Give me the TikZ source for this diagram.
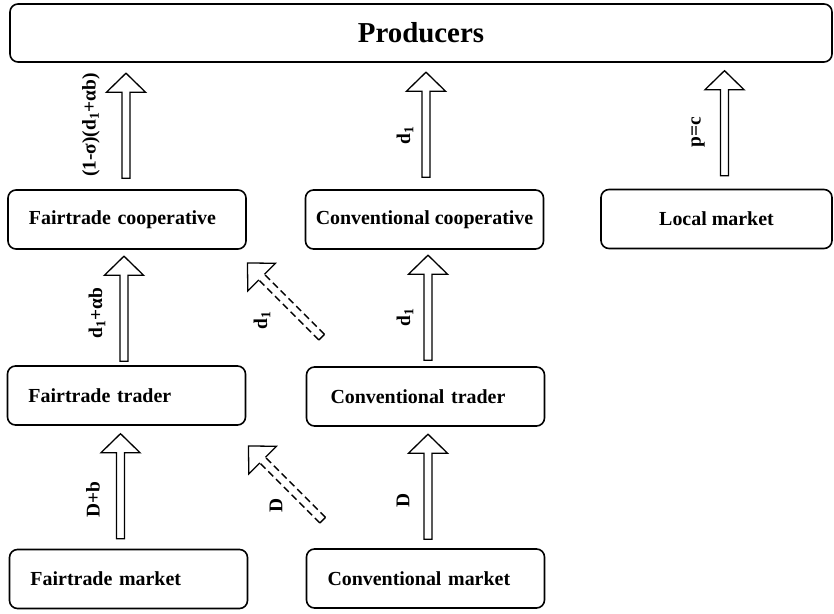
\documentclass[tikz,border=0pt]{standalone}
\usepackage{fontspec}
\setmainfont{Liberation Serif}
\usetikzlibrary{calc}

\tikzset{
  pics/flow/.style={code={
    \draw[line width=1.3bp] (-4,0) -- (-4,86) -- (-19.5,86) -- (0,105) -- (19.5,86) -- (4,86) -- (4,0) -- cycle;
  }},
  pics/dashflow/.style={code={
    \draw[line width=1.3bp] (-4,0) -- (4,0);
    \draw[line width=1.3bp, dash pattern=on 7bp off 4bp] (-4,0) -- (-4,85) (4,0) -- (4,85);
    \draw[line width=1.3bp] (-4,85) -- (-19.5,85) -- (0,105) -- (19.5,85) -- (4,85);
  }}
}

\begin{document}
\begin{tikzpicture}[x=1bp, y=1bp,
  box/.style={draw, line width=1.6bp, rounded corners=8bp, minimum width=238bp,
    minimum height=59bp, font=\bfseries\fontsize{20}{24}\selectfont},
  lbox/.style={box, inner xsep=21bp, text width=196bp, align=left},
  lbl/.style={rotate=90, font=\bfseries\fontsize{19.5}{23}\selectfont}]
\useasboundingbox (0,0) rectangle (834,614);

\node[box, minimum width=822bp, minimum height=58bp,
  font=\bfseries\fontsize{29}{34}\selectfont] (prod) at (421,581) {Producers};

\node[lbox] (ftcoop) at (127,394.5) {Fairtrade cooperative};
\node[box] (cvcoop) at (424.5,394.5) {Conventional cooperative};
\node[box, minimum width=231bp] (local) at (716.5,395) {Local market};
\node[lbox] (fttrader) at (126.5,218.5) {Fairtrade trader};
\node[lbox, inner xsep=24bp, text width=190bp] (cvtrader) at (425.5,217.5) {Conventional trader};
\node[lbox] (ftmarket) at (128.5,35) {Fairtrade market};
\node[lbox] (cvmarket) at (425.5,35.5) {Conventional market};

\path ($(ftcoop.north)+(-1,11)$) pic{flow};
\path ($(cvcoop.north)+(1.5,12)$) pic{flow};
\path ($(local.north)+(8,13)$) pic{flow};
\path ($(fttrader.north)+(-2.5,4)$) pic{flow};
\path ($(cvtrader.north)+(2.5,6)$) pic{flow};
\path ($(ftmarket.north)+(-8,10)$) pic{flow};
\path ($(cvmarket.north)+(2.5,9)$) pic{flow};
\path ($(cvtrader.north west)+(16,29)$) pic[rotate=45]{dashflow};
\path ($(cvmarket.north west)+(17,28)$) pic[rotate=45]{dashflow};

\node[lbl] (l1) at (91,489) {(1-σ)(d\textsubscript{1}+αb)};
\node[lbl] (l2) at (405,479) {d\textsubscript{1}};
\node[lbl] (l3) at (698,482) {p=c};
\node[lbl] (l4) at (405,297) {d\textsubscript{1}};
\node[lbl] (l5) at (97,301) {d\textsubscript{1}+αb};
\node[lbl] (l6) at (93,114) {D+b};
\node[lbl] (l7) at (403,114) {D};
\node[lbl] (l8) at (262,294) {d\textsubscript{1}};
\node[lbl] (l9) at (276,109) {D};
\end{tikzpicture}
\end{document}
